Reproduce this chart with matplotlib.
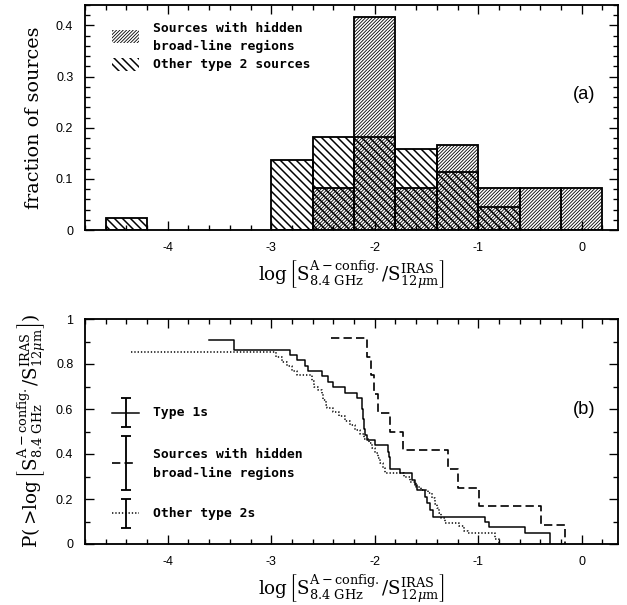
import matplotlib
matplotlib.use("Agg")
import matplotlib.pyplot as plt
from matplotlib.patches import Rectangle
from matplotlib.ticker import MultipleLocator, FuncFormatter

plt.rcParams['axes.unicode_minus'] = False
plt.rcParams['mathtext.fontset'] = 'dejavuserif'
plt.rcParams['font.family'] = ['Liberation Sans', 'DejaVu Sans']

# ---------------- data ----------------
bin_width = 0.4
other_left = [-4.6, -3.0, -2.6, -2.2, -1.8, -1.4, -1.0]
other_frac = [0.0227, 0.136, 0.182, 0.182, 0.159, 0.114, 0.045]
hidden_left = [-2.6, -2.2, -1.8, -1.4, -1.0, -0.6, -0.2]
hidden_frac = [0.083, 0.417, 0.083, 0.167, 0.083, 0.083, 0.083]

type1_x = [-3.60, -3.36, -2.82, -2.75, -2.67, -2.65, -2.51, -2.45, -2.40, -2.29, -2.17,
           -2.125, -2.12, -2.115, -2.11, -2.105, -2.10, -2.09, -2.08, -2.00, -1.87,
           -1.862, -1.855, -1.85, -1.755, -1.643, -1.611, -1.588, -1.514, -1.498,
           -1.466, -1.434, -0.934, -0.893, -0.548, -0.306]
type1_y = [0.907, 0.861, 0.838, 0.816, 0.793, 0.770, 0.747, 0.722, 0.697, 0.672, 0.647,
           0.624, 0.601, 0.578, 0.555, 0.532, 0.509, 0.486, 0.462, 0.439, 0.410,
           0.385, 0.360, 0.333, 0.314, 0.284, 0.262, 0.240, 0.210, 0.181,
           0.151, 0.119, 0.099, 0.074, 0.050, 0.0]

hidden_x = [-2.42, -2.08, -2.04, -2.01, -1.97, -1.85, -1.73, -1.29, -1.20, -0.99, -0.39, -0.16]
hidden_y = [0.917, 0.833, 0.750, 0.667, 0.583, 0.500, 0.417, 0.333, 0.250, 0.167, 0.083, 0.0]

other_x = [-4.36, -2.95, -2.90, -2.85, -2.80, -2.75, -2.61, -2.59, -2.55, -2.51, -2.50,
           -2.47, -2.46, -2.40, -2.35, -2.29, -2.24, -2.19, -2.14, -2.10, -2.06, -2.03,
           -2.00, -1.97, -1.95, -1.92, -1.90, -1.72, -1.66, -1.60, -1.55, -1.49, -1.45,
           -1.42, -1.40, -1.38, -1.36, -1.32, -1.19, -1.14, -1.10, -0.84, -0.80]
other_y = [0.852, 0.830, 0.810, 0.790, 0.770, 0.750, 0.725, 0.700, 0.685, 0.665, 0.640,
           0.620, 0.603, 0.588, 0.570, 0.548, 0.528, 0.508, 0.488, 0.468, 0.448, 0.428,
           0.405, 0.382, 0.360, 0.338, 0.317, 0.299, 0.277, 0.255, 0.240, 0.225, 0.205,
           0.180, 0.158, 0.136, 0.114, 0.092, 0.078, 0.060, 0.047, 0.023, 0.0]

HATCH_HIDDEN = '/' * 12
HATCH_OTHER = '\\' * 5

# ---------------- figure ----------------
DPI = 120
fig = plt.figure(figsize=(627 / DPI, 605 / DPI), dpi=DPI)
L, R = 85 / 627, 618 / 627
ax1 = fig.add_axes([L, 1 - 230 / 605, R - L, (230 - 5) / 605])
ax2 = fig.add_axes([L, 1 - 544 / 605, R - L, (544 - 319) / 605])

xlabel = r'$\log\left[\mathrm{S}^{\rm A-config.}_{\rm 8.4\ GHz}/\mathrm{S}^{\rm IRAS}_{12\mu{\rm m}}\right]$'
ylabel2 = r'$\mathrm{P}(>\!\log\left[\mathrm{S}^{\rm A-config.}_{\rm 8.4\ GHz}/\mathrm{S}^{\rm IRAS}_{12\mu{\rm m}}\right])$'

def fmt(v, pos):
    if abs(v) < 1e-9:
        return '0'
    return '%g' % v

for ax in (ax1, ax2):
    ax.set_xlim(-4.8, 0.35)
    ax.xaxis.set_major_locator(MultipleLocator(1))
    ax.xaxis.set_minor_locator(MultipleLocator(0.2))
    ax.tick_params(which='both', direction='in', top=True, right=True, width=0.8,
                   labelsize=7.5, colors='black')
    ax.tick_params(which='major', length=5.5, pad=7)
    ax.tick_params(which='minor', length=3)
    ax.yaxis.set_major_formatter(FuncFormatter(fmt))
    ax.xaxis.set_major_formatter(FuncFormatter(fmt))
    for s in ax.spines.values():
        s.set_linewidth(1.1)
    ax.set_xlabel(xlabel, fontsize=11, labelpad=3)

# ---- panel (a) ----
ax1.set_ylim(0, 0.44)
ax1.yaxis.set_major_locator(MultipleLocator(0.1))
ax1.yaxis.set_minor_locator(MultipleLocator(0.02))
ax1.set_ylabel('fraction of sources', family='DejaVu Serif', fontsize=11.5, labelpad=8)

with plt.rc_context({'hatch.linewidth': 0.9}):
    bars_o = ax1.bar(other_left, other_frac, width=bin_width, align='edge',
                     facecolor='none', edgecolor='black', linewidth=1.1, hatch=HATCH_OTHER)
    p2 = Rectangle((-4.54, 0.311), 0.26, 0.026, facecolor='none', edgecolor='black',
                   linewidth=0, hatch=HATCH_OTHER)
with plt.rc_context({'hatch.linewidth': 0.5}):
    bars_h = ax1.bar(hidden_left, hidden_frac, width=bin_width, align='edge',
                     facecolor='none', edgecolor='black', linewidth=1.1, hatch=HATCH_HIDDEN)
    p1 = Rectangle((-4.54, 0.366), 0.26, 0.026, facecolor='none', edgecolor='black',
                   linewidth=0, hatch=HATCH_HIDDEN)
for b in list(bars_o) + [p2]:
    if hasattr(b, 'set_hatch_linewidth'):
        b.set_hatch_linewidth(0.9)
for b in list(bars_h) + [p1]:
    if hasattr(b, 'set_hatch_linewidth'):
        b.set_hatch_linewidth(0.5)
ax1.add_patch(p1)
ax1.add_patch(p2)

# legend (a)
leg_font = dict(family='DejaVu Sans Mono', fontweight='bold', fontsize=7.8, va='center')
ax1.text(-4.14, 0.395, 'Sources with hidden', **leg_font)
ax1.text(-4.14, 0.359, 'broad-line regions', **leg_font)
ax1.text(-4.14, 0.324, 'Other type 2 sources', **leg_font)
ax1.text(0.02, 0.265, '(a)', fontsize=11, ha='center', va='center')

# ---- panel (b) ----
ax2.set_ylim(0, 1)
ax2.yaxis.set_major_locator(MultipleLocator(0.2))
ax2.yaxis.set_minor_locator(MultipleLocator(0.1))
ax2.set_ylabel(ylabel2, fontsize=11, labelpad=5)

ax2.step(type1_x, type1_y, where='post', color='black', linewidth=0.9)
ax2.step(hidden_x, hidden_y, where='post', color='black', linewidth=1.0,
         linestyle=(0, (5, 2.5)))
ax2.step(other_x, other_y, where='post', color='black', linewidth=0.9,
         linestyle=(0, (0.9, 1.3)))

# legend (b)
bx = -4.40
ax2.errorbar([bx], [0.583], yerr=[0.065], fmt='none', ecolor='black', elinewidth=1.1,
             capsize=3, capthick=1.1)
ax2.plot([-4.54, -4.28], [0.583, 0.583], color='black', linewidth=0.9)
ax2.errorbar([bx], [0.361], yerr=[0.12], fmt='none', ecolor='black', elinewidth=1.1,
             capsize=3, capthick=1.1)
ax2.plot([-4.54, -4.31], [0.361, 0.361], color='black', linewidth=1.0,
         linestyle=(0, (5, 2.5)))
ax2.errorbar([bx], [0.136], yerr=[0.065], fmt='none', ecolor='black', elinewidth=1.1,
             capsize=3, capthick=1.1)
ax2.plot([-4.54, -4.28], [0.136, 0.136], color='black', linewidth=0.9,
         linestyle=(0, (0.9, 1.3)))
ax2.text(-4.14, 0.583, 'Type 1s', **leg_font)
ax2.text(-4.14, 0.40, 'Sources with hidden', **leg_font)
ax2.text(-4.14, 0.313, 'broad-line regions', **leg_font)
ax2.text(-4.14, 0.136, 'Other type 2s', **leg_font)
ax2.text(0.02, 0.60, '(b)', fontsize=11, ha='center', va='center')

fig.savefig('out.png', dpi=DPI)
